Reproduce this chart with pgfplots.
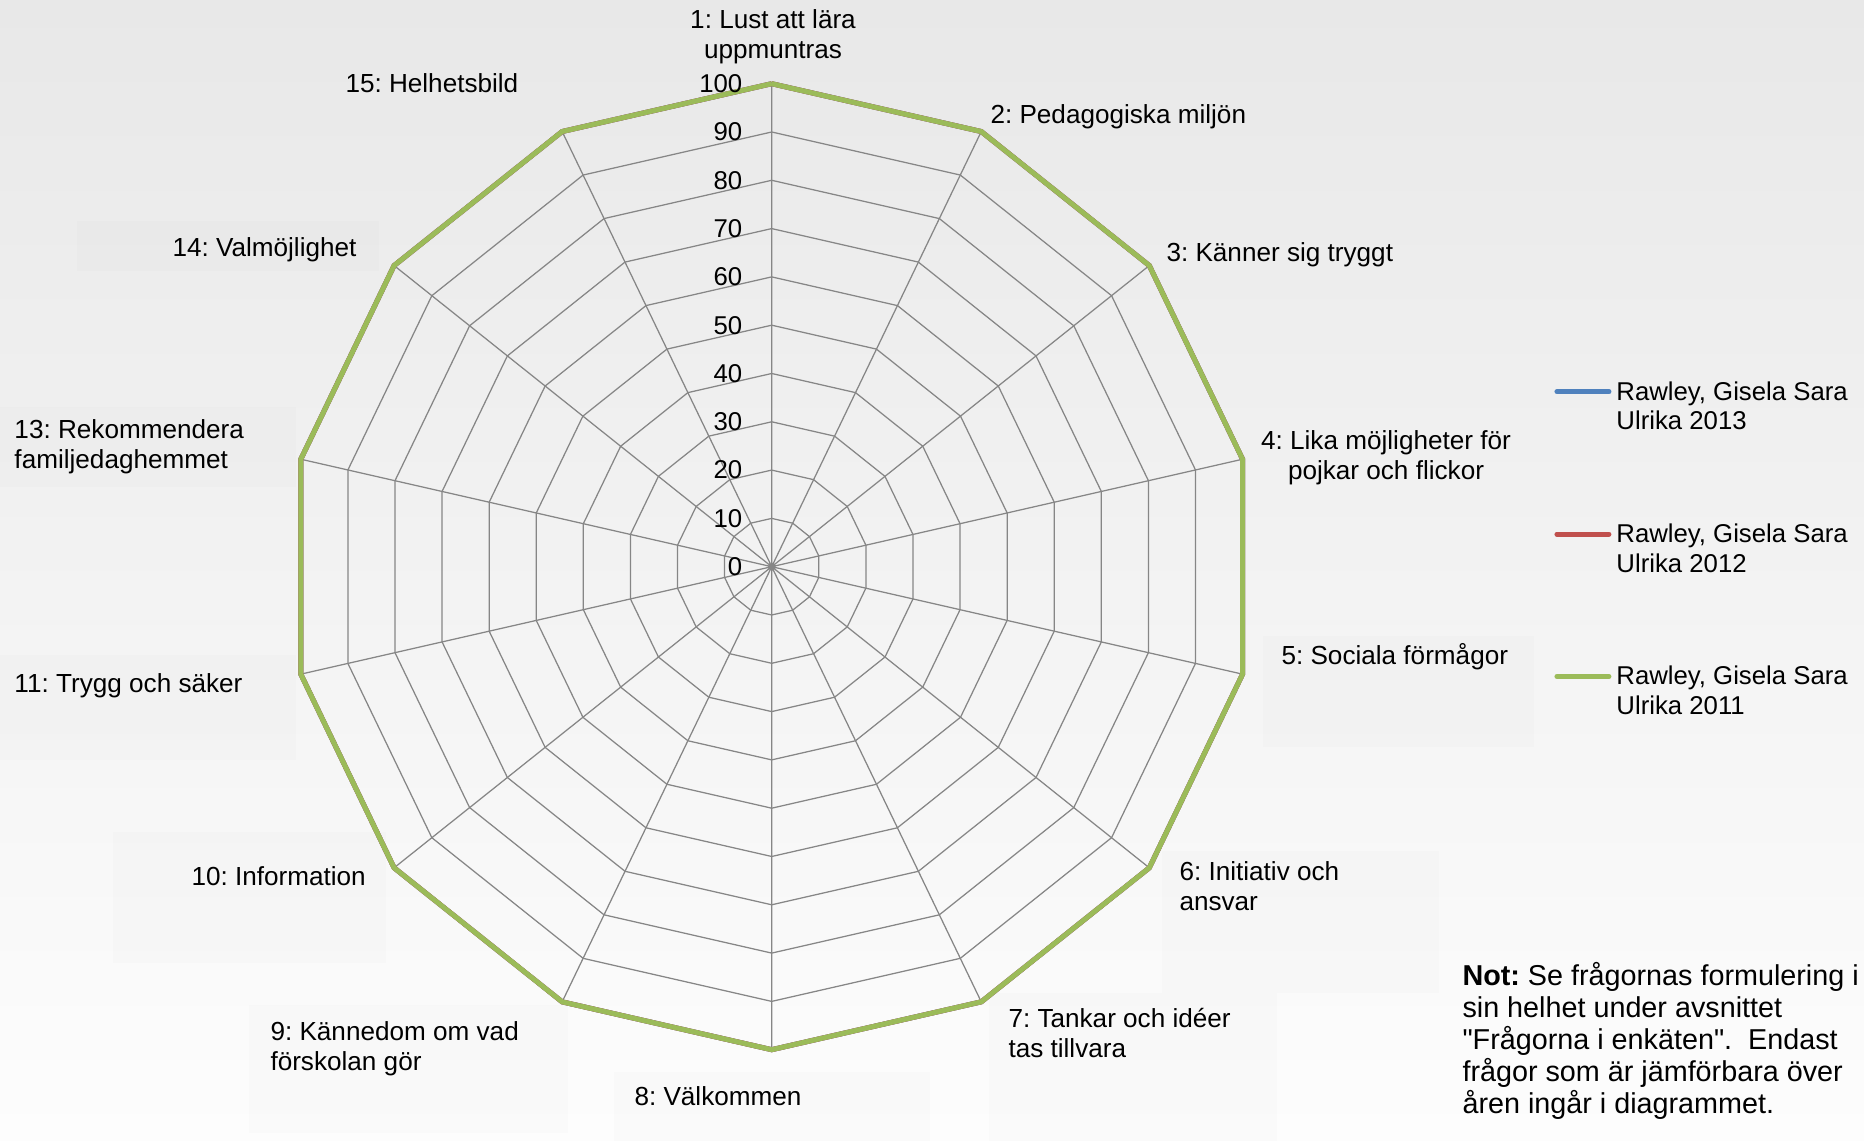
\documentclass[border=0pt]{standalone}
\usepackage{fontspec}
\setmainfont{Liberation Sans}[Ligatures=TeXOff]
\usepackage{pgfplots}
\pgfplotsset{compat=1.18}
\usepgfplotslibrary{polar}
\usepackage{pgfplotstable}
\frenchspacing

\definecolor{bgtop}{RGB}{232,232,232}
\definecolor{bgbot}{RGB}{253,253,253}
\definecolor{gridgray}{RGB}{134,134,134}
\definecolor{s2013}{RGB}{79,129,189}
\definecolor{s2012}{RGB}{192,80,77}
\definecolor{s2011}{RGB}{155,187,89}

% one value per question (12 is not comparable across years)
\pgfplotstableread{
angle  y2013 y2012 y2011
90       100   100   100
64.2857  100   100   100
38.5714  100   100   100
12.8571  100   100   100
347.1429 100   100   100
321.4286 100   100   100
295.7143 100   100   100
270      100   100   100
244.2857 100   100   100
218.5714 100   100   100
192.8571 100   100   100
167.1429 100   100   100
141.4286 100   100   100
115.7143 100   100   100
90       100   100   100
}\scores

\newcommand\ring[1]{\addplot[gridgray, line width=0.5pt, forget plot] coordinates {
  (90,#1) (64.2857,#1) (38.5714,#1) (12.8571,#1) (347.1429,#1) (321.4286,#1)
  (295.7143,#1) (270,#1) (244.2857,#1) (218.5714,#1) (192.8571,#1)
  (167.1429,#1) (141.4286,#1) (115.7143,#1) (90,#1)};}
\newcommand\two[2]{\vtop{\halign{##\hfil\cr #1\cr #2\cr}}}
\newcommand\twoc[2]{\vtop{\halign{\hfil##\hfil\cr #1\cr #2\cr}}}

\begin{document}
\begin{tikzpicture}[font=\fontsize{10.45}{11.9}\selectfont]
\shade[top color=bgtop, bottom color=bgbot] (0,0) rectangle (745.6pt,456.4pt);
% faint label boxes
\begin{scope}[black, fill opacity=0.01]
\fill (30.8pt,348pt) rectangle (151.6pt,368pt);
\fill (0pt,261.6pt) rectangle (118.4pt,293.6pt);
\fill (0pt,152.4pt) rectangle (118.4pt,194.4pt);
\fill (45.2pt,71.2pt) rectangle (154.4pt,123.6pt);
\fill (99.6pt,3.2pt) rectangle (227.2pt,54.4pt);
\fill (245.6pt,0pt) rectangle (372pt,27.6pt);
\fill (395.6pt,0pt) rectangle (510.8pt,59.2pt);
\fill (464.8pt,59.2pt) rectangle (575.6pt,116pt);
\fill (505.2pt,157.6pt) rectangle (613.6pt,202pt);
\end{scope}

\begin{polaraxis}[
  at={(308.68pt,229.72pt)}, anchor=center,
  scale only axis, width=386.4pt, height=386.4pt,
  ymin=0, ymax=100, clip=false,
  xtick={90,64.2857,38.5714,12.8571,347.1429,321.4286,295.7143,270,244.2857,218.5714,192.8571,167.1429,141.4286,115.7143},
  xticklabels={}, ytick=\empty,
  major tick length=0pt,
  axis line style={draw=none},
  xmajorgrids=true, ymajorgrids=false,
  major grid style={gridgray, line width=0.5pt},
  legend cell align=left,
  legend style={at={(1.302,0.7026)}, anchor=north west, draw=none, fill=none,
    row sep=44pt, font=\fontsize{10.3}{11.9}\selectfont},
  legend image code/.code={\draw[#1, line cap=round] (0pt,0.4pt) -- (20.8pt,0.4pt);},
]
\ring{10}\ring{20}\ring{30}\ring{40}\ring{50}
\ring{60}\ring{70}\ring{80}\ring{90}\ring{100}
\addplot[s2013, line width=2pt] table[x=angle, y=y2013] {\scores};
\addlegendentry{\two{Rawley, Gisela Sara}{Ulrika 2013}}
\addplot[s2012, line width=2pt] table[x=angle, y=y2012] {\scores};
\addlegendentry{\two{Rawley, Gisela Sara}{Ulrika 2012}}
\addplot[s2011, line width=2pt] table[x=angle, y=y2011] {\scores};
\addlegendentry{\two{Rawley, Gisela Sara}{Ulrika 2011}}
\end{polaraxis}

% radial scale
\foreach \v in {0,10,...,100}
  \node[anchor=east, inner sep=0pt, font=\fontsize{10.3}{11.9}\selectfont] at (297.1pt, {229.72pt + \v*1.932pt}) {\v};

% category labels
\begin{scope}[every node/.style={inner sep=0pt}]
\node[anchor=base] at (309.2pt,444.8pt) {\twoc{1: Lust att lära}{uppmuntras}};
\node[anchor=base west] at (396pt,406.8pt) {2: Pedagogiska miljön};
\node[anchor=base west] at (466.4pt,351.6pt) {3: Känner sig tryggt};
\node[anchor=base] at (554.4pt,276.4pt) {\twoc{4: Lika möjligheter för}{pojkar och flickor}};
\node[anchor=base west] at (512.4pt,190.4pt) {5: Sociala förmågor};
\node[anchor=base west] at (471.6pt,104pt) {\two{6: Initiativ och}{ansvar}};
\node[anchor=base west] at (403.2pt,45.2pt) {\two{7: Tankar och idéer}{tas tillvara}};
\node[anchor=base west] at (253.6pt,14pt) {8: Välkommen};
\node[anchor=base west] at (108pt,40pt) {\two{9: Kännedom om vad}{förskolan gör}};
\node[anchor=base west] at (76.4pt,102pt) {10: Information};
\node[anchor=base west] at (5.6pt,179.2pt) {11: Trygg och säker};
\node[anchor=base west] at (5.6pt,280.8pt) {\two{13: Rekommendera}{familjedaghemmet}};
\node[anchor=base west] at (68.8pt,353.6pt) {14: Valmöjlighet};
\node[anchor=base west] at (138pt,419.2pt) {15: Helhetsbild};

\node[anchor=base west, font=\fontsize{11.5}{12.8}\selectfont] at (584.8pt,62pt)
  {\vtop{\halign{#\hfil\cr
  \textbf{Not:} Se frågornas formulering i\cr
  sin helhet under avsnittet\cr
  "Frågorna i enkäten".\ \ Endast\cr
  frågor som är jämförbara över\cr
  åren ingår i diagrammet.\cr}}};
\end{scope}

\pgfresetboundingbox
\path[use as bounding box] (0,0) rectangle (745.6pt,456.4pt);
\end{tikzpicture}
\end{document}
